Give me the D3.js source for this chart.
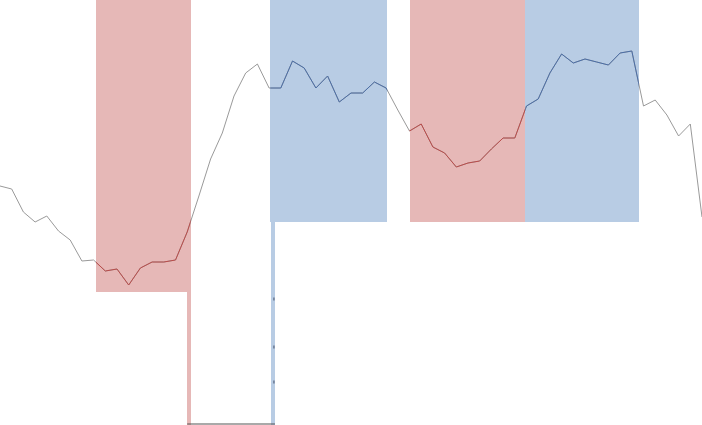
<!DOCTYPE html>
<html>
<head>
<meta charset="utf-8">
<script src="https://cdn.jsdelivr.net/npm/d3@7"></script>
<style>
  html, body { margin: 0; padding: 0; background: #fff; overflow: hidden; }
</style>
</head>
<body>
<svg id="chart" width="702" height="425"></svg>
<script>
// series values, one per step
const values = [
  47.8, 47.2, 42.6, 40.6, 41.8, 38.8, 37.0, 32.8, 33.0, 30.8,
  31.2, 28.0, 31.4, 32.6, 32.6, 33.0, 38.6, 45.8, 53.2, 58.4,
  65.8, 70.4, 72.2, 67.4, 67.4, 72.8, 71.4, 67.4, 69.8, 64.6,
  66.4, 66.4, 68.6, 67.4, 63.0, 58.8, 60.2, 55.6, 54.4, 51.6,
  52.4, 52.8, 55.2, 57.4, 57.4, 63.8, 65.2, 70.4, 74.2, 72.4,
  73.2, 72.6, 72.0, 74.4, 74.8, 63.8, 65.0, 62.0, 57.8, 60.2,
  41.6
];

// shaded periods: start / end step, lower edge value
const bandStart = [8.2, 23.1, 35.0, 44.9];
const bandEnd   = [16.3, 33.1, 44.9, 54.6];
const bandLow   = [26.6, 40.6, 40.6, 40.6];
const bandKind  = ["down", "up", "down", "up"];

// leftover strips below the panels
const stripStart = [16.0, 23.15];
const stripEnd   = [16.3, 23.5];
const stripKind  = ["down", "up"];
const stripTicks = [25.2, 15.6, 8.6];

const fills = { down: "#e6b8b7", up: "#b8cce4" };
const lines = { down: "#bc4b49", up: "#4a6ea8" };

const width = 702, height = 425;
const svg = d3.select("#chart");

const x = d3.scaleLinear().domain([0, values.length - 1]).range([0, width]);
const y = d3.scaleLinear().domain([0, 85]).range([height, 0]);

const bands = bandStart.map((s, i) => ({ s, e: bandEnd[i], low: bandLow[i], kind: bandKind[i] }));
const strips = stripStart.map((s, i) => ({ s, e: stripEnd[i], kind: stripKind[i] }));

// clip paths for coloured line pieces
const defs = svg.append("defs");
["down", "up"].forEach(k => {
  defs.append("clipPath").attr("id", "clip-" + k)
    .selectAll("rect")
    .data(bands.filter(b => b.kind === k))
    .join("rect")
    .attr("x", d => x(d.s))
    .attr("width", d => x(d.e) - x(d.s))
    .attr("y", 0)
    .attr("height", height);
});

svg.selectAll(".band")
  .data(bands)
  .join("rect")
  .attr("class", "band")
  .attr("x", d => x(d.s))
  .attr("width", d => x(d.e) - x(d.s))
  .attr("y", y(85))
  .attr("height", d => y(d.low) - y(85))
  .attr("fill", d => fills[d.kind])
  .attr("shape-rendering", "crispEdges");

svg.selectAll(".strip")
  .data(strips)
  .join("rect")
  .attr("class", "strip")
  .attr("x", d => x(d.s))
  .attr("width", d => x(d.e) - x(d.s))
  .attr("y", 0)
  .attr("height", height)
  .attr("fill", d => fills[d.kind])
  .attr("shape-rendering", "crispEdges");

svg.selectAll(".stick")
  .data(stripTicks)
  .join("line")
  .attr("class", "stick")
  .attr("x1", x(stripEnd[1]) - 1)
  .attr("x2", x(stripEnd[1]) - 1)
  .attr("y1", d => y(d) - 1.5)
  .attr("y2", d => y(d) + 1.5)
  .attr("stroke", "#44506a")
  .attr("stroke-width", 1);

// baseline piece
svg.append("line")
  .attr("x1", x(stripStart[0]))
  .attr("x2", x(stripEnd[1]))
  .attr("y1", height - 1)
  .attr("y2", height - 1)
  .attr("stroke", "#555")
  .attr("stroke-width", 1.2);

const lineGen = d3.line()
  .x((d, i) => x(i))
  .y(d => y(d));

svg.append("path")
  .datum(values)
  .attr("d", lineGen)
  .attr("fill", "none")
  .attr("stroke", "#9a9a9a")
  .attr("stroke-width", 1);

["down", "up"].forEach(k => {
  svg.append("path")
    .datum(values)
    .attr("d", lineGen)
    .attr("clip-path", `url(#clip-${k})`)
    .attr("fill", "none")
    .attr("stroke", lines[k])
    .attr("stroke-width", 1);
});
</script>
</body>
</html>
